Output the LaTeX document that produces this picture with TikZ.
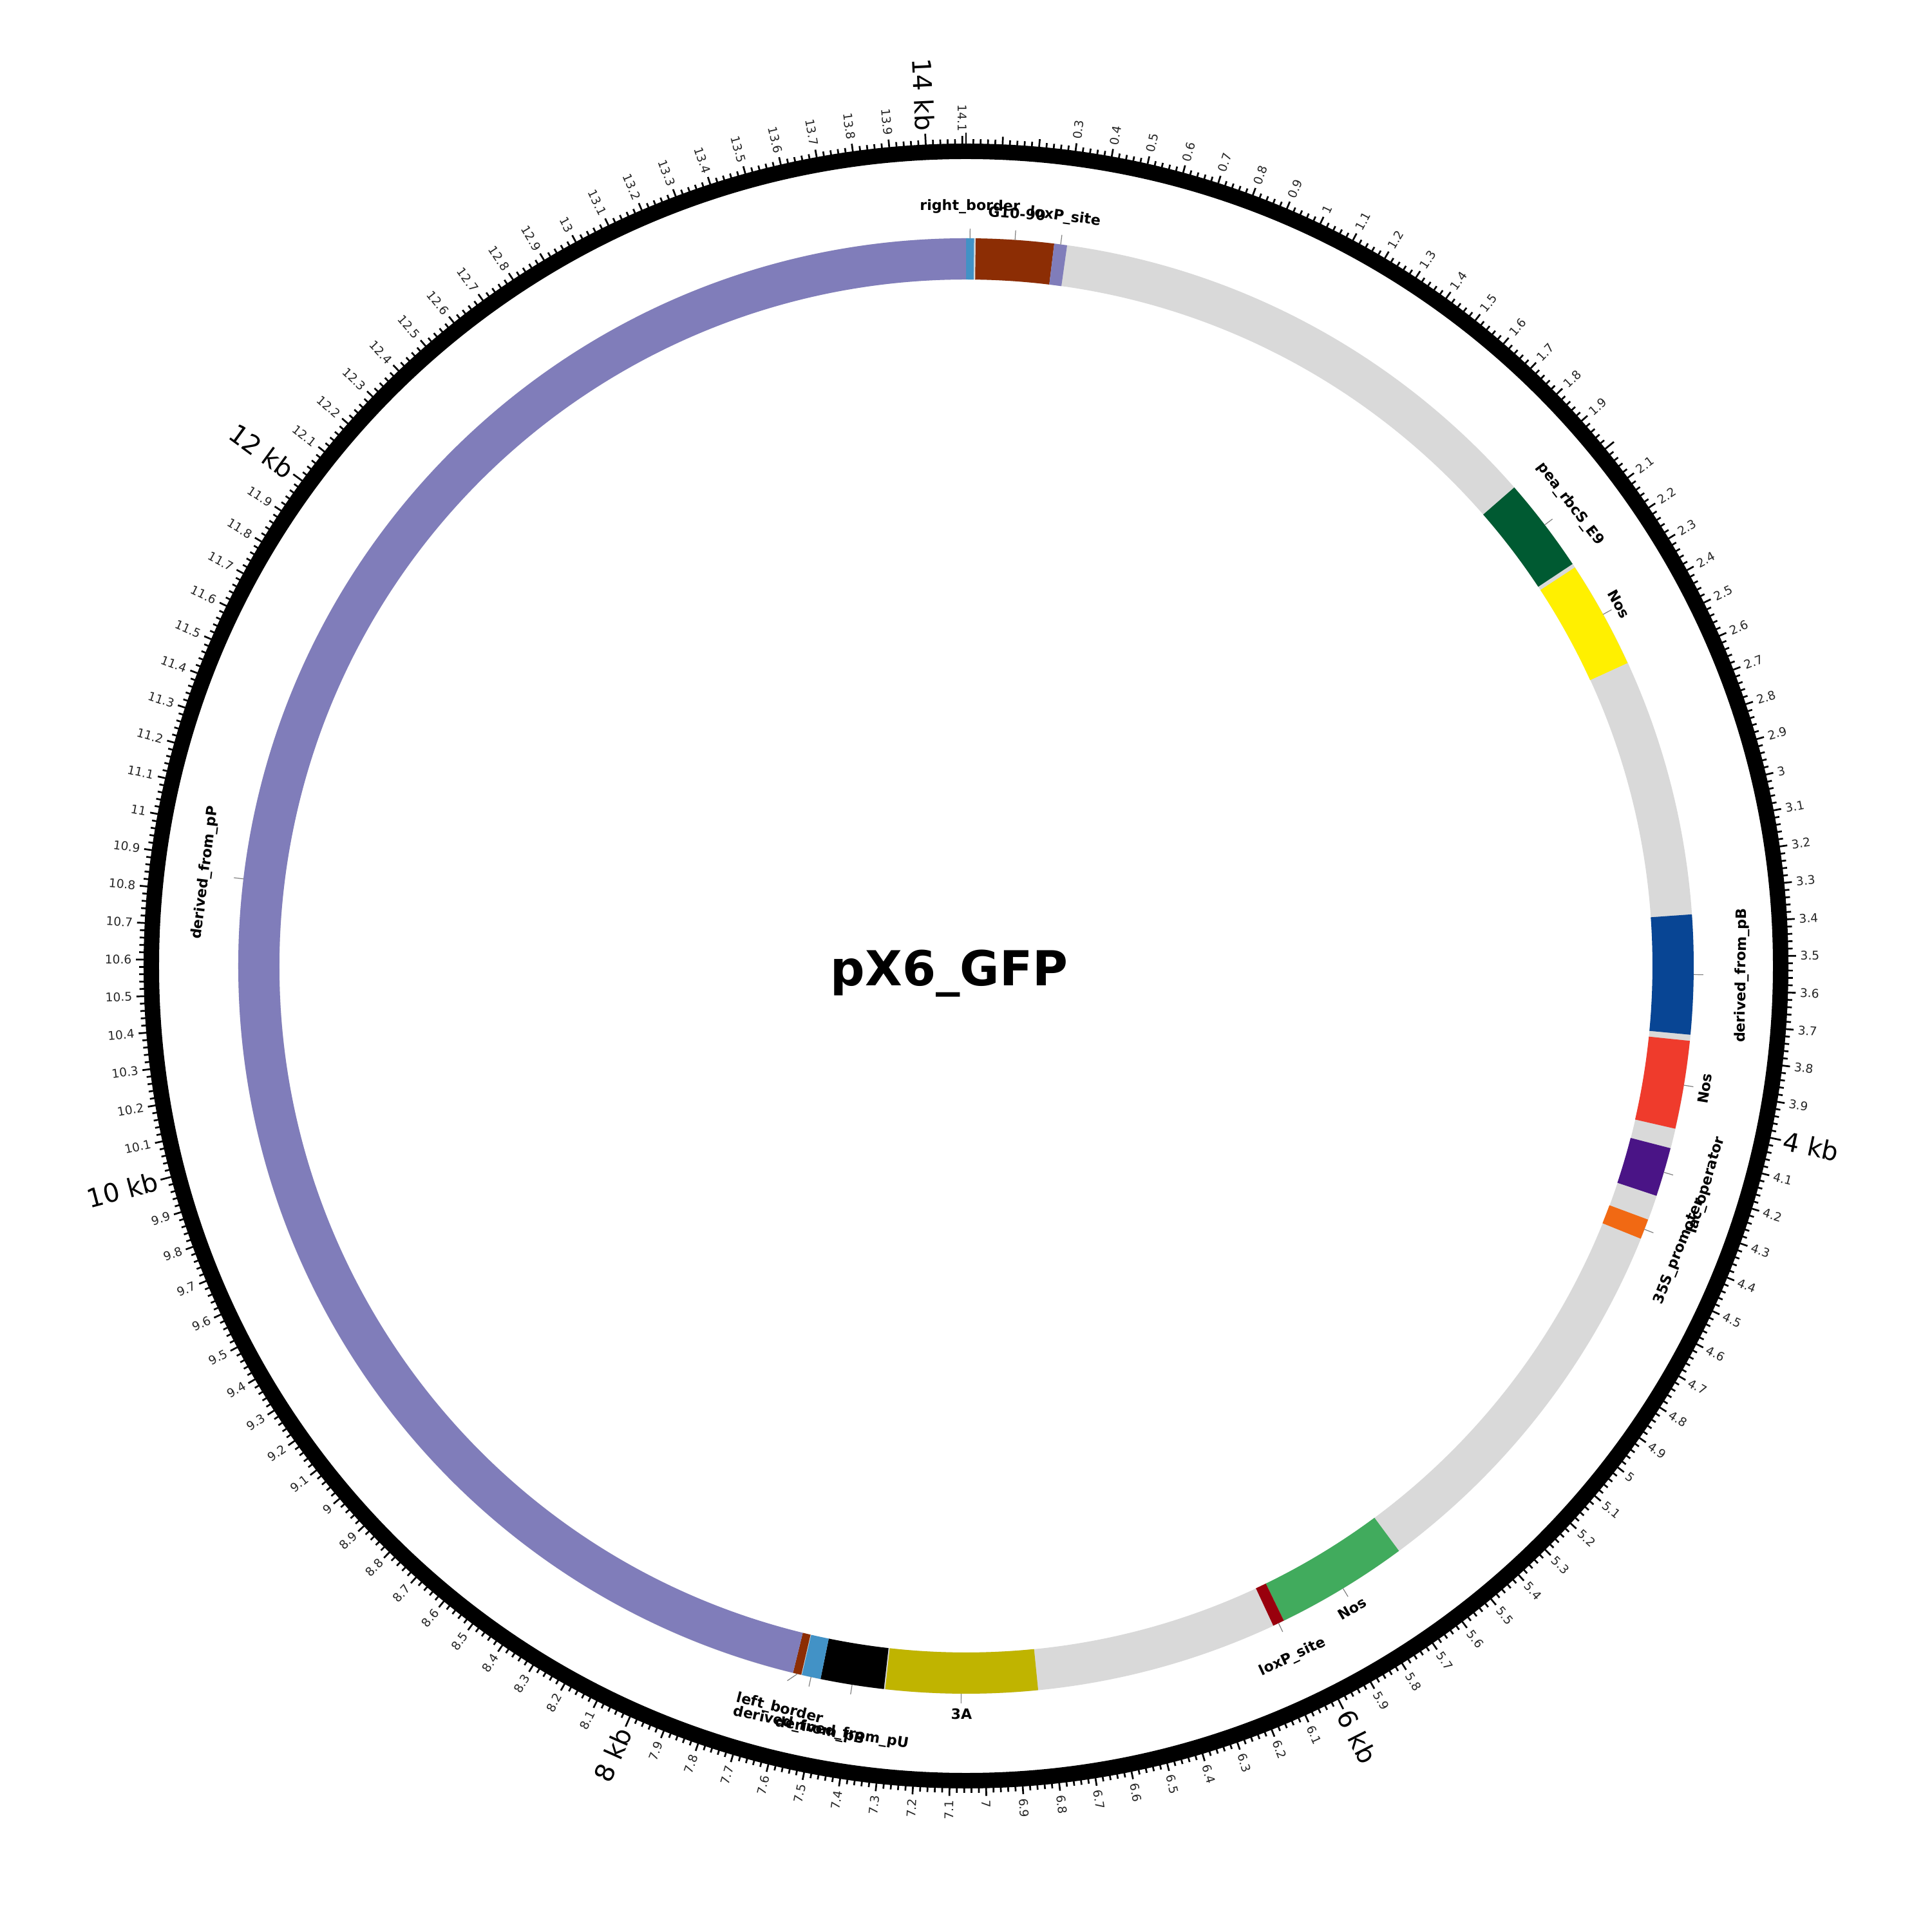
\documentclass[tikz,border=0pt]{standalone}
\usepackage{fontspec}
\setmainfont{DejaVu Sans}
\definecolor{cgray}{HTML}{D9D9D9}
\definecolor{cpp}{HTML}{807DBA}
\definecolor{crb}{HTML}{4292C6}
\definecolor{cbrown}{HTML}{8C2D04}
\definecolor{cdkgreen}{HTML}{005A32}
\definecolor{cyellow}{HTML}{FFF000}
\definecolor{cdkblue}{HTML}{084594}
\definecolor{cred}{HTML}{EF3B2C}
\definecolor{cviolet}{HTML}{4A1486}
\definecolor{corange}{HTML}{F16913}
\definecolor{cgreen}{HTML}{41AB5D}
\definecolor{cdkred}{HTML}{99000D}
\definecolor{colive}{HTML}{C0B400}
\definecolor{cleader}{HTML}{808080}
\newcommand{\featarc}[3]{%
  \pgfmathsetmacro\fA{90-(#1)*360/14.11}%
  \pgfmathsetmacro\fB{90-(#2)*360/14.11}%
  \fill[#3] (\fA:10.66) arc[start angle=\fA, end angle=\fB, radius=10.66] -- (\fB:11.30) arc[start angle=\fB, end angle=\fA, radius=11.30] -- cycle;%
}
\newcommand{\featlab}[5]{%
  \pgfmathsetmacro\lA{90-(#2)*360/14.11}%
  \coordinate (#1-in) at (\lA:11.30);%
  \coordinate (#1-out) at (\lA:11.45);%
  \pgfmathsetmacro\lR{(#3<=90) ? -(#3) : ((#3<270) ? 180-(#3) : 360-(#3))}%
  \node[featlabel, rotate=\lR] (#1) at ({90-(#3)}:#4) {#5};%
  \draw[leader] (#1-in) -- (#1-out);%
}
\tikzset{
  ringline/.style={line width=2.4mm, draw=black},
  tickline/.style={line width=0.27mm, draw=black},
  leader/.style={draw=cleader, line width=0.12mm},
  featlabel/.style={font=\bfseries\fontsize{6.3}{7}\selectfont, inner sep=0pt},
  ticklabel/.style={font=\fontsize{5.3}{6}\selectfont, inner sep=0pt, text=black!85},
  kblabel/.style={font=\fontsize{11.4}{13}\selectfont, inner sep=0pt},
  titlefont/.style={font=\bfseries\fontsize{21.3}{25}\selectfont, inner sep=0pt}
}
\begin{document}
\begin{tikzpicture}
\fill[white] (-15,-15) rectangle (15,15);
\useasboundingbox (-15,-15) rectangle (15,15);
% feature track background
\draw[line width=6.4mm, draw=cgray] (0,0) circle[radius=10.98];
\featarc{0}{0.025}{crb}
\featarc{0.030}{0.273}{cbrown}
\featarc{0.273}{0.313}{cpp}
\featarc{1.916}{2.213}{cdkgreen}
\featarc{2.226}{2.563}{cyellow}
\featarc{3.368}{3.740}{cdkblue}
\featarc{3.759}{4.034}{cred}
\featarc{4.096}{4.249}{cviolet}
\featarc{4.327}{4.390}{corange}
\featarc{5.624}{6.040}{cgreen}
\featarc{6.040}{6.076}{cdkred}
\featarc{6.832}{7.305}{colive}
\featarc{7.309}{7.507}{black}
\featarc{7.507}{7.566}{crb}
\featarc{7.568}{7.594}{cbrown}
\featarc{7.594}{14.11}{cpp}
% labels
\featlab{rb}{0.0125}{0.3}{11.79}{right\_border}
\featlab{g10}{0.1515}{3.87}{11.71}{G10-90}
\featlab{lox1}{0.293}{7.54}{11.73}{loxP\_site}
\featlab{pea}{2.065}{52.6}{11.81}{pea\_rbcS\_E9}
\featlab{nos1}{2.395}{61.0}{11.59}{Nos}
\featlab{dpb1}{3.554}{90.7}{12.05}{derived\_from\_pB}
\featlab{nos2}{3.897}{99.4}{11.63}{Nos}
\featlab{lac}{4.173}{106.5}{11.99}{lac\_operator}
\featlab{s35}{4.359}{111.8}{11.93}{35S\_promoter}
\featlab{nos3}{5.832}{149.0}{11.64}{Nos}
\featlab{lox2}{6.058}{154.7}{11.87}{loxP\_site}
\featlab{a3}{7.070}{180.35}{11.62}{3A}
\featlab{dpu}{7.408}{189.2}{12.07}{derived\_from\_pU}
\featlab{dpb2}{7.537}{192.4}{12.08}{derived\_from\_pB}
\featlab{dpp}{10.852}{277.0}{11.90}{derived\_from\_pP}
\coordinate (lb-in) at (-103.4:11.30);
\coordinate (lb-out) at (-104.04:11.44);
\node[featlabel, rotate=-14.07] (lb) at (-104.07:11.89) {left\_border};
\draw[leader] (lb-in) -- (lb-out);
% outer ring
\draw[ringline] (0,0) circle[radius=12.65];
\foreach \i in {0,...,705}{
  \pgfmathsetmacro\ta{90-\i*7.2/14.11}
  \pgfmathtruncatemacro\mf{mod(\i,5)}
  \pgfmathtruncatemacro\mh{mod(\i,100)}
  \ifnum\mh=0 \def\tl{12.94}\else\ifnum\mf=0 \def\tl{12.89}\else\def\tl{12.84}\fi\fi
  \draw[tickline] (\ta:12.6) -- (\ta:\tl);
}
\foreach \i in {3,...,141}{
  \pgfmathtruncatemacro\mt{mod(\i,20)}
  \ifnum\mt=0\relax\else
    \pgfmathsetmacro\th{\i*36/14.11}
    \pgfmathtruncatemacro\ip{\i/10}
    \pgfmathtruncatemacro\fp{\i-10*\ip}
    \ifnum\fp=0 \edef\txt{\ip}\else\edef\txt{\ip.\fp}\fi
    \ifdim\th pt<180pt
      \pgfmathsetmacro\rr{90-\th}
      \node[ticklabel, anchor=west, rotate=\rr] (t\i) at ({90-\th}:12.95) {\txt};
    \else
      \pgfmathsetmacro\rr{270-\th}
      \node[ticklabel, anchor=east, rotate=\rr] (t\i) at ({90-\th}:12.95) {\txt};
    \fi
  \fi
}
\foreach \k in {4,6,...,14}{
  \pgfmathsetmacro\th{\k*360/14.11}
  \ifdim\th pt<180pt
    \pgfmathsetmacro\rr{90-\th}
    \node[kblabel, anchor=west, rotate=\rr] (kb\k) at ({90-\th}:12.98) {\k{} kb};
  \else
    \pgfmathsetmacro\rr{270-\th}
    \node[kblabel, anchor=east, rotate=\rr] (kb\k) at ({90-\th}:12.98) {\k{} kb};
  \fi
}
\node[titlefont] (title) at (-0.26,-0.12) {pX6\_GFP};
\end{tikzpicture}
\end{document}
